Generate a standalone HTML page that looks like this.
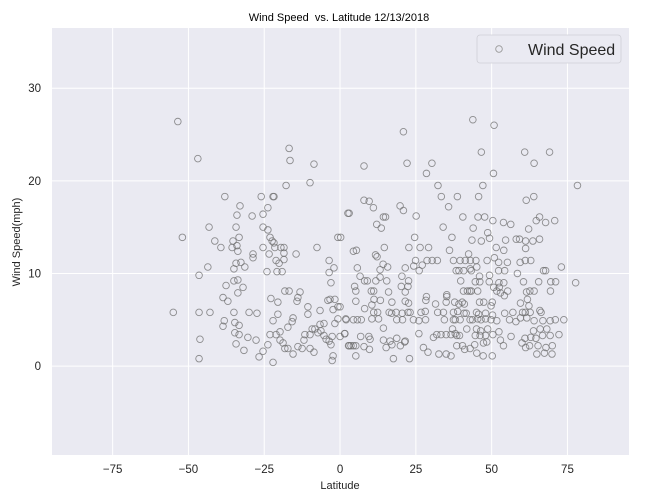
<!DOCTYPE html>
<html><head><meta charset="utf-8"><style>
body{margin:0;background:#fff;}
svg{display:block;font-family:"Liberation Sans",sans-serif;}
</style></head><body>
<svg id="chart" width="648" height="504">
<rect x="0" y="0" width="648" height="504" fill="#fff"/>
<rect x="52" y="28" width="577" height="427" fill="#eaeaf2"/>
<g id="grid"></g>
<g id="xticks"></g>
<g id="yticks"></g>
<g id="marks"></g>
<text x="339" y="21" text-anchor="middle" font-size="11" fill="#000" xml:space="preserve">Wind Speed  vs. Latitude 12/13/2018</text>
<text x="340" y="489" text-anchor="middle" font-size="11" fill="#262626">Latitude</text>
<text transform="translate(20,242) rotate(-90)" text-anchor="middle" font-size="11" fill="#262626">Wind Speed(mph)</text>
<g>
<rect x="477" y="35" width="144" height="28" rx="3" fill="#eaeaf2" stroke="#cfcfd6" stroke-width="0.8"/>
<circle cx="499" cy="49" r="3.3" fill="none" stroke="#999" stroke-width="0.9"/>
<text x="528" y="55" font-size="16" fill="#262626">Wind Speed</text>
</g>
</svg>
<script>
const xTicks = [-75, -50, -25, 0, 25, 50, 75];
const yTicks = [0, 10, 20, 30];
const xDomain = [-95, 95.3];
const yDomain = [-9.6, 36.5];
const cities = [
[-53.5,26.4],[-46.9,22.4],[-38,18.3],[-43.2,15],[-52,13.9],[-41.3,13.5],[-39.3,12.8],[-43.6,10.7],[-46.5,9.8],[-55,5.8],
[-46.5,5.8],[-42.9,5.8],[-46.2,2.9],[-46.5,0.8],[-38.6,4.3],[-38.2,4.9],[-38.6,7.4],[-37,7],[-37.6,8.7],[-35,9.2],
[-33.7,7.9],[-32,8.5],[-33.7,9.3],[-35,10.5],[-34.3,11.1],[-32.7,11.2],[-31.4,10.7],[-35.6,12.8],[-33.7,12.4],[-34,13],
[-35.3,13.5],[-33.3,13.9],[-34.3,15],[-34,16.3],[-33,17.3],[-29,16.2],[-28.7,12.1],[-28.7,11.7],[-35,5.8],[-34.7,4.7],
[-33.3,4.4],[-34.7,3.6],[-33.3,3.4],[-34.3,2.4],[-31.7,1.7],[-30.4,3.1],[-27.7,2.8],[-26.7,1],[-25.4,1.6],[-22.1,0.4],
[-23.8,2.3],[-23.1,3.4],[-21.1,3.4],[-19.8,3.7],[-19.8,2.8],[-18.8,2.5],[-18.2,1.9],[-17.2,1.9],[-15.5,1.3],[-13.9,2.1],
[-12.5,1.9],[-11.9,2.8],[-11.6,3.4],[-9.9,3.4],[-9.2,4],[-8.3,4],[-7.3,3.6],[-6.3,3.8],[-5.3,3.3],[-4.6,2.9],
[-3.6,2.7],[-2.6,3.2],[-3,2.3],[-2.3,1.1],[-2.6,0.6],[0,3.2],[1.6,3.5],[2,5],[3,2.2],[-9.9,1.9],
[-8.6,1.5],[-6.6,4.5],[-5.3,4.6],[-6.6,6],[-4,7.1],[-3.3,7.2],[-1.7,7.2],[-0.7,6.4],[-2.3,6.1],[-1.7,4.6],
[-0.7,5.1],[-10.6,5.6],[-14.2,7],[-13.9,7.4],[-13.2,8],[-16.8,8.1],[-18.2,8.1],[-22.8,7.3],[-20.5,6.9],[-20.5,5.6],
[-22.1,4.9],[-17.2,4.2],[-15.8,4.8],[-15.5,5.2],[-27.4,5.7],[-30,5.8],[-24.1,10.2],[-20.8,10.2],[-19.1,10.2],[-21.1,11.4],
[-20.1,11.1],[-18.5,11.5],[-18.5,12.2],[-23.4,12.1],[-21.5,12.8],[-19.5,12.8],[-18.5,12.8],[-25.4,12.8],[-23.1,13.9],[-22.4,13.5],
[-21.8,13.3],[-23.8,14.7],[-25.4,15],[-25.4,16.4],[-23.8,17.1],[-26,18.3],[-22.1,18.3],[-21.8,18.3],[-17.8,19.5],[-16.8,23.5],
[-16.5,22.2],[-8.6,21.8],[-9.9,19.8],[-14.5,12.1],[-7.6,12.8],[-0.7,13.9],[2.6,16.5],[-3.6,11.4],[-2,10.6],[-3.6,10.1],
[-3,9],[-10.6,6.4],
[43.8,26.6],[50.8,26.0],[20.9,25.3],[46.6,23.1],[60.9,23.1],[69.1,23.1],[64.0,21.9],[22.1,21.9],[30.3,21.9],[7.9,21.6],
[28.5,20.8],[50.6,20.8],[78.3,19.5],[32.3,19.5],[47.1,19.5],[33.4,18.3],[38.7,18.3],[45.7,18.3],[63.9,18.3],[61.4,17.9],
[7.9,17.9],[9.6,17.8],[11.0,17.1],[19.8,17.3],[20.9,16.8],[35.8,17.2],[3.0,16.5],[14.3,16.1],[15.0,16.1],[25.1,16.2],
[40.5,16.1],[45.5,16.1],[47.7,16.1],[50.4,15.7],[53.9,15.5],[56.3,15.3],[65.8,16.1],[64.7,15.7],[67.8,15.5],[70.8,15.7],
[12.1,15.3],[13.6,14.9],[34.0,15.0],[43.9,14.9],[62.2,14.8],[48.7,14.4],[49.3,13.8],[24.6,13.9],[36.9,13.9],[43.5,13.6],
[46.6,13.5],[54.6,13.6],[58.1,13.7],[59.2,13.7],[61.2,13.5],[63.6,13.5],[65.8,13.7],[0.2,13.9],[14.6,12.8],[22.7,12.8],
[26.4,12.8],[29.2,12.8],[51.5,12.8],[54.0,12.5],[61.2,12.7],[4.4,12.4],[5.4,12.5],[36.1,12.5],[11.7,12.0],[12.2,11.8],
[42.4,12.1],[14.2,11.0],[15.7,10.7],[21.5,10.6],[24.3,10.8],[27.1,10.9],[24.9,11.4],[28.7,11.4],[30.4,11.4],[32.1,11.4],
[37.4,11.4],[39.6,11.4],[41.3,11.4],[43.0,11.4],[44.8,11.4],[48.5,11.4],[50.9,11.7],[52.3,11.2],[55.2,11.2],[59.4,11.2],
[61.1,11.4],[62.9,11.4],[45.1,10.7],[42.9,10.5],[5.7,10.6],[13.2,10.4],[26.1,10.3],[38.3,10.3],[39.2,10.3],[40.8,10.3],
[43.3,10.3],[52.3,10.3],[54.3,10.3],[58.5,10.0],[67.1,10.3],[67.8,10.3],[73.0,10.7],[6.6,9.7],[20.4,9.7],[46.0,9.7],
[49.3,9.8],[13.2,9.6],[15.4,9.2],[8.1,9.2],[9.0,9.2],[11.8,9.2],[22.6,9.2],[20.2,8.6],[22.4,8.6],[39.8,9.2],
[44.6,9.1],[46.1,9.1],[49.2,9.1],[52.4,9.0],[54.0,9.0],[50.7,8.5],[52.5,8.5],[60.5,9.1],[65.5,9.1],[69.5,9.1],
[71.1,9.1],[77.7,9.0],[4.8,8.6],[5.2,8.1],[10.3,8.1],[11.1,8.1],[16.0,8.0],[21.5,8.0],[40.7,8.1],[42.0,8.1],
[42.8,8.1],[43.3,8.1],[45.4,8.1],[51.7,8.1],[52.9,7.9],[54.2,7.6],[55.3,8.1],[61.5,8.0],[62.6,8.1],[64.0,8.1],
[69.4,8.1],[35.2,7.7],[35.2,7.5],[28.5,7.5],[28.3,7.1],[5.2,7.0],[11.2,7.2],[13.3,7.1],[17.1,6.9],[21.5,7.0],
[22.6,6.8],[31.5,6.7],[35.0,6.9],[37.8,6.9],[39.2,6.7],[40.3,6.9],[41.0,6.7],[46.0,6.9],[47.4,6.9],[50.2,6.9],
[49.8,6.5],[59.5,6.8],[61.8,7.2],[62.3,6.5],[8.1,6.2],[10.5,6.6],[0,6.4],[11.1,5.8],[12.4,5.8],[16.2,5.8],
[17.0,5.7],[18.5,5.8],[20.5,5.7],[22.4,5.8],[23.1,5.8],[26.7,5.8],[28.1,5.9],[32.2,5.8],[34.1,5.8],[37.4,5.8],
[38.8,5.9],[40.9,5.7],[41.6,5.7],[45.0,5.8],[45.7,5.6],[48.0,5.7],[50.3,5.5],[54.3,5.7],[57.0,5.8],[60.2,5.8],
[61.1,5.8],[62.7,5.8],[65.9,6.0],[66.3,5.8],[1.9,5.1],[4.4,5.0],[5.7,5.0],[7.0,5.0],[10.5,5.1],[12.7,5.1],
[18.7,5.0],[20.6,5.0],[24.2,5.0],[26.0,4.9],[28.2,5.0],[34.4,5.0],[37.4,5.0],[38.0,5.0],[39.6,5.0],[42.9,5.0],
[43.7,5.0],[45.4,5.1],[46.5,5.0],[48.0,5.1],[49.8,5.0],[51.7,4.9],[55.9,5.0],[58.0,4.8],[59.5,5.2],[61.6,5.2],
[64.0,4.9],[66.9,4.9],[69.3,4.9],[71.0,5.0],[73.8,5.0],[14.3,4.1],[1.5,3.5],[26.0,3.5],[37.1,4.0],[38.0,3.5],
[41.8,4.0],[45.0,4.0],[46.4,3.8],[48.7,4.0],[52.4,3.7],[56.4,3.2],[63.8,3.8],[66.0,4.0],[68.2,4.0],[6.8,3.2],
[9.5,3.2],[9.9,2.9],[14.3,2.8],[16.5,2.7],[18.7,3.0],[21.5,2.7],[30.8,3.1],[31.9,3.4],[33.3,3.4],[35.0,3.4],
[36.6,3.4],[38.5,3.3],[39.4,3.3],[44.6,3.3],[46.2,3.3],[48.0,3.3],[50.4,3.4],[52.9,2.8],[53.9,2.2],[61.0,3.0],
[62.9,3.1],[64.6,3.0],[66.8,3.3],[69.3,3.3],[72.2,3.4],[2.8,2.2],[3.6,2.2],[4.4,2.2],[5.2,2.2],[7.9,2.1],
[9.7,1.8],[15.2,2.0],[17.1,2.3],[19.9,2.2],[21.3,2.6],[27.5,2.0],[29.0,1.5],[32.6,1.3],[35.0,1.3],[36.6,1.1],
[38.5,2.2],[40.4,2.2],[41.1,1.8],[42.9,1.9],[44.4,2.3],[45.1,1.4],[47.2,1.1],[50.2,1.1],[48.4,2.6],[47.3,2.5],
[62.5,2.2],[65.3,2.2],[67.9,2.0],[70.0,2.2],[67.4,1.4],[69.9,1.3],[64.9,1.3],[5.2,1.1],[17.6,0.8],[22.9,0.8],
[60.0,2.5],[61.2,2.0]
];
const W=52, E=629, T=28, B=455;
function xScale(v){return W+(v-xDomain[0])/(xDomain[1]-xDomain[0])*(E-W);}
function yScale(v){return B-(v-yDomain[0])/(yDomain[1]-yDomain[0])*(B-T);}
const NS='http://www.w3.org/2000/svg';
const grid=document.getElementById('grid'), xg=document.getElementById('xticks'), yg=document.getElementById('yticks'), mg=document.getElementById('marks');
function mk(tag,attrs){const e=document.createElementNS(NS,tag);for(const k in attrs)e.setAttribute(k,attrs[k]);return e;}
xTicks.forEach(t=>{
  const x=xScale(t);
  const l=mk('line',{x1:x,x2:x,y1:T,y2:B,stroke:'#fff','stroke-width':1});
  
  
  grid.appendChild(l);
  const tx=mk('text',{x:x,y:473,'text-anchor':'middle','font-size':11.5,fill:'#262626'});
  tx.textContent=t<0?'\u2212'+Math.abs(t):String(t);
  
  
  xg.appendChild(tx);
});
yTicks.forEach(t=>{
  const y=yScale(t);
  const l=mk('line',{x1:W,x2:E,y1:y,y2:y,stroke:'#fff','stroke-width':1});
  
  
  grid.appendChild(l);
  const tx=mk('text',{x:41,y:y+4,'text-anchor':'end','font-size':11.5,fill:'#262626'});
  tx.textContent=String(t);
  
  
  yg.appendChild(tx);
});
cities.forEach(p=>{
  const c=mk('circle',{cx:xScale(p[0]),cy:yScale(p[1]),r:3.3,fill:'none',stroke:'#6e6e6e','stroke-opacity':0.75,'stroke-width':0.9});
  
  
  mg.appendChild(c);
});
</script>
</body></html>
